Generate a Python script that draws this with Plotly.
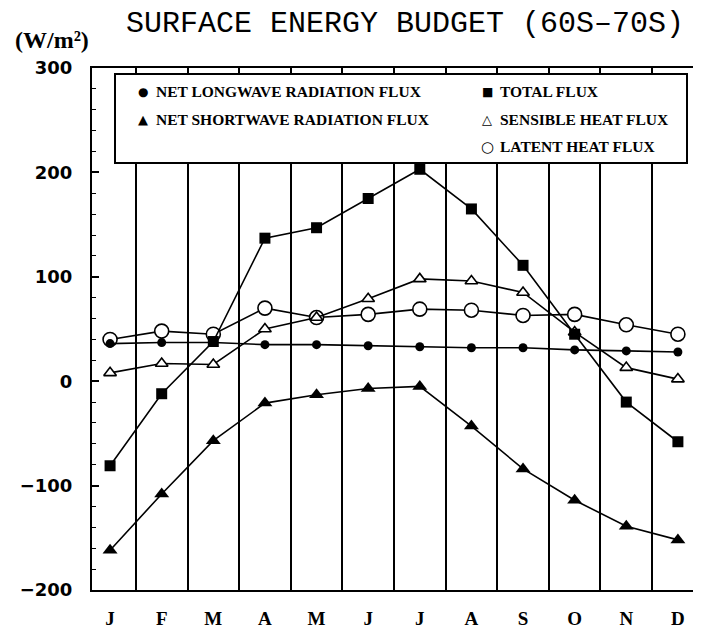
import plotly.graph_objects as go

months = ["J", "F", "M", "A", "M", "J", "J", "A", "S", "O", "N", "D"]
month_idx = list(range(12))

longwave = [36, 37, 37, 35, 35, 34, 33, 32, 32, 30, 29, 28]
shortwave = [-162, -108, -57, -21, -13, -7, -5, -43, -84, -114, -139, -152]
total = [-81, -12, 38, 137, 147, 175, 203, 165, 111, 45, -20, -58]
sensible = [8, 17, 16, 50, 61, 79, 98, 96, 85, 47, 13, 2]
latent = [40, 48, 45, 70, 61, 64, 69, 68, 63, 64, 54, 45]

y_ticks = [-200, -100, 0, 100, 200, 300]

# page body has an 8px margin: figure is shrunk so that it fits the window
OFF = 8
W, H = 701 - OFF, 641 - OFF
PL, PT, PW, PH = 92, 68, 605, 522  # plot area in window pixels


def px(x):
    return (x - PL) / PW


def py(y):
    return 1 - (y - PT) / PH


fig = go.Figure()
line = dict(color="black", width=1.6)

fig.add_trace(go.Scatter(x=month_idx, y=latent, mode="lines+markers", line=line,
                         marker=dict(symbol="circle", size=14, color="white",
                                     line=dict(color="black", width=1.6)),
                         name="LATENT HEAT FLUX"))
fig.add_trace(go.Scatter(x=month_idx, y=sensible, mode="lines+markers", line=line,
                         marker=dict(symbol="triangle-up", size=11, color="white",
                                     line=dict(color="black", width=1.6)),
                         name="SENSIBLE HEAT FLUX"))
fig.add_trace(go.Scatter(x=month_idx, y=longwave, mode="lines+markers", line=line,
                         marker=dict(symbol="circle", size=9, color="black"),
                         name="NET LONGWAVE RADIATION FLUX"))
fig.add_trace(go.Scatter(x=month_idx, y=shortwave, mode="lines+markers", line=line,
                         marker=dict(symbol="triangle-up", size=13, color="black"),
                         name="NET SHORTWAVE RADIATION FLUX"))
fig.add_trace(go.Scatter(x=month_idx, y=total, mode="lines+markers", line=line,
                         marker=dict(symbol="square", size=11, color="black"),
                         name="TOTAL FLUX"))

# legend box (drawn as shape + text)
fig.add_shape(type="rect", xref="paper", yref="paper", x0=px(115), x1=px(687),
              y0=py(163), y1=py(74), line=dict(color="black", width=2),
              fillcolor="white", layer="above")

serif = "Liberation Serif"
leg_items = [
    ("●", "NET LONGWAVE RADIATION FLUX", 143, 92, 12),
    ("▲", "NET SHORTWAVE RADIATION FLUX", 143, 119, 13),
    ("■", "TOTAL FLUX", 487, 92, 12),
    ("△", "SENSIBLE HEAT FLUX", 487, 119, 13),
    ("○", "LATENT HEAT FLUX", 487, 147, 15),
]
for sym, txt, sx, sy, ssize in leg_items:
    fig.add_annotation(x=px(sx), y=py(sy), xref="paper", yref="paper", text=sym,
                       showarrow=False, xanchor="center", yanchor="middle",
                       font=dict(family="DejaVu Sans", size=ssize, color="black"))
    fig.add_annotation(x=px(sx + 11), y=py(sy), xref="paper", yref="paper",
                       text="<b>" + txt + "</b>", showarrow=False,
                       xanchor="left", yanchor="middle",
                       font=dict(family=serif, size=15.5, color="black"))

# units label
fig.add_annotation(x=px(52), y=py(40), xref="paper", yref="paper",
                   text="<b>(W/m²)</b>", showarrow=False, xanchor="center",
                   yanchor="middle", font=dict(family=serif, size=24, color="black"))

fig.update_layout(
    width=W, height=H,
    margin=dict(l=PL - OFF, r=W - (PL + PW - OFF), t=PT - OFF,
                b=H - (PT + PH - OFF)),
    paper_bgcolor="white", plot_bgcolor="white",
    showlegend=False,
    title=dict(text="SURFACE ENERGY BUDGET (60S\u201370S)",
               x=(405 - OFF) / W, xref="container", xanchor="center",
               y=1 - (21 - OFF) / H, yref="container", yanchor="middle",
               font=dict(family="Liberation Mono", size=30, color="black")),
    xaxis=dict(range=[-0.35, 11.37], tickvals=month_idx, ticktext=months,
               showgrid=False, zeroline=False, showline=True, mirror=True,
               linecolor="black", linewidth=2, ticks="",
               ticklabelstandoff=10,
               tickfont=dict(family=serif, size=19, color="black", weight="bold"),
               minor=dict(tick0=0.5, dtick=1, showgrid=True, gridcolor="black",
                          gridwidth=1.5, ticks="")),
    yaxis=dict(range=[-200, 300], tickvals=y_ticks, showgrid=False,
               zeroline=False, showline=True, linecolor="black", linewidth=2,
               ticks="inside", ticklen=7, tickwidth=1.5, tickcolor="black",
               ticklabelstandoff=14,
               tickfont=dict(family="DejaVu Sans", size=18, color="black", weight="bold"),
               minor=dict(dtick=20, tick0=0, ticks="inside", ticklen=4,
                          tickwidth=1.2, tickcolor="black", showgrid=False)),
    yaxis2=dict(range=[-200, 300], overlaying="y", side="right", showgrid=False,
                zeroline=False, showline=False, showticklabels=False,
                ticks="inside", dtick=20, tick0=0, ticklen=3, tickwidth=1.2,
                tickcolor="black"),
)

fig.write_html("out.html")
